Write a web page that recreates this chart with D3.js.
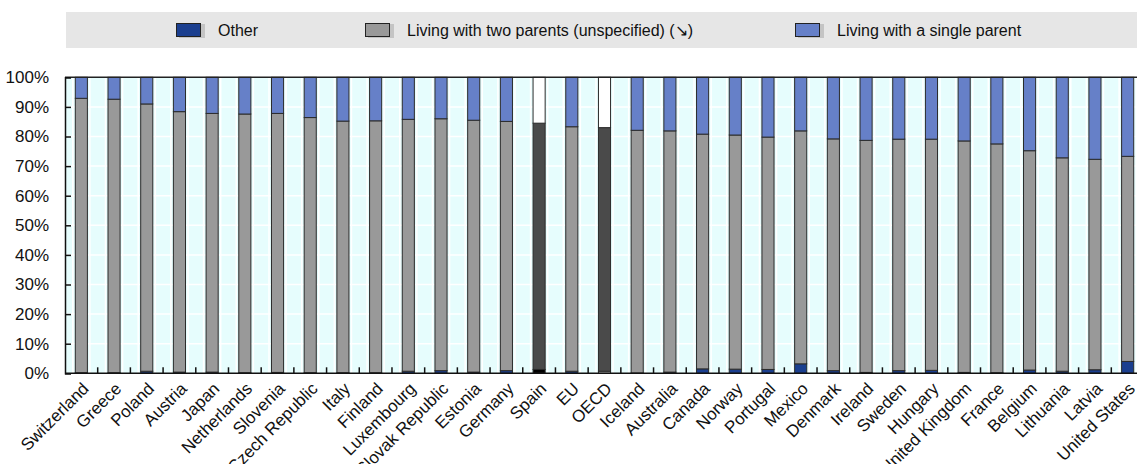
<!DOCTYPE html>
<html>
<head>
<meta charset="utf-8">
<script src="https://cdn.jsdelivr.net/npm/d3@7"></script>
<style>
  html, body { margin: 0; padding: 0; background: #ffffff; overflow: hidden; }
  svg { display: block; font-family: "Liberation Sans", Arial, sans-serif; }
</style>
</head>
<body>
<svg id="chart" width="1137" height="464"></svg>
<script>
// ---- data ----
const countries = ["Switzerland","Greece","Poland","Austria","Japan","Netherlands","Slovenia","Czech Republic","Italy","Finland","Luxembourg","Slovak Republic","Estonia","Germany","Spain","EU","OECD","Iceland","Australia","Canada","Norway","Portugal","Mexico","Denmark","Ireland","Sweden","Hungary","United Kingdom","France","Belgium","Lithuania","Latvia","United States"];
const other = [0.2,0.2,0.7,0.4,0.4,0.2,0.3,0.2,0.2,0.2,0.7,0.9,0.4,0.9,1.3,0.7,0.7,0.1,0.4,1.5,1.4,1.3,3.2,0.9,0.3,0.9,1.0,0.3,0.2,1.1,0.7,1.2,4.0];
const twoParents = [92.7,92.4,90.3,88.0,87.4,87.4,87.5,86.2,85.0,85.1,85.1,85.1,85.1,84.2,83.2,82.6,82.3,82.0,81.5,79.3,79.1,78.5,78.7,78.3,78.4,78.2,78.1,78.2,77.3,74.1,72.1,71.1,69.3];
const singleParent = [7.1,7.4,9.0,11.6,12.2,12.4,12.2,13.6,14.8,14.7,14.2,14.0,14.5,14.9,15.5,16.7,17.0,17.9,18.1,19.2,19.5,20.2,18.1,20.8,21.3,20.9,20.9,21.5,22.5,24.8,27.2,27.7,26.7];
const seriesNames = ["Other","Living with two parents (unspecified) (\u2198)","Living with a single parent"];
const yTicks = [0,10,20,30,40,50,60,70,80,90,100];

// ---- styles ----
const colors = ["#1b3f8f","#999999","#6680c8"];
const highlight = {
  "Spain": ["#000000","#4a4a4a","#ffffff"],
  "OECD":  ["#c8c8c8","#4a4a4a","#ffffff"]
};
const fontSize = 17;
const legendFontSize = 16;

const svg = d3.select("#chart");
const pLeft = 65, pTop = 77.3, pBottom = 373.3, pRight = 1144;

const x = d3.scaleBand().domain(countries).range([pLeft, pRight])
  .paddingInner(0.63).paddingOuter(0.315);
const y = d3.scaleLinear().domain([0,100]).range([pBottom, pTop]);

// legend band
svg.append("rect").attr("x", 66).attr("y", 12).attr("width", 1137 - 66).attr("height", 36)
  .attr("fill", "#e6e6e6");
const legendX = [176, 365, 795];
seriesNames.forEach((name, i) => {
  const g = svg.append("g").attr("transform", `translate(${legendX[i]},23)`);
  g.append("rect").attr("x", 3).attr("y", 1).attr("width", 26).attr("height", 14).attr("fill", "#c4c4c4");
  g.append("rect").attr("x", 0.5).attr("y", 0.5).attr("width", 24).attr("height", 13)
    .attr("fill", colors[i]).attr("stroke", "#222").attr("stroke-width", 1);
  g.append("text").attr("x", 42).attr("y", 7).attr("dy", "0.35em")
    .attr("font-size", legendFontSize).attr("fill", "#111").text(name);
});

// plot background
const plot = svg.append("g");
plot.append("rect").attr("x", pLeft).attr("y", pTop).attr("width", pRight - pLeft).attr("height", pBottom - pTop)
  .attr("fill", "#e6fdfd");
plot.selectAll("line.hg").data(yTicks.slice(1, -1)).join("line")
  .attr("x1", pLeft).attr("x2", pRight)
  .attr("y1", d => y(d)).attr("y2", d => y(d))
  .attr("stroke", "#ffffff").attr("stroke-width", 1.5);
const bw = x.bandwidth();
countries.forEach(c => {
  [x(c) - 2.5, x(c) + bw + 2.5].forEach(px => {
    plot.append("line").attr("x1", px).attr("x2", px).attr("y1", pTop).attr("y2", pBottom)
      .attr("stroke", "#ffffff").attr("stroke-width", 1.5);
  });
});

// stacked bars
const rows = countries.map((c, i) => ({ country: c, other: other[i], two: twoParents[i], single: singleParent[i] }));
const stacked = d3.stack().keys(["other","two","single"])(rows);
stacked.forEach((layer, li) => {
  plot.append("g").selectAll("rect").data(layer).join("rect")
    .attr("x", d => x(d.data.country))
    .attr("width", bw)
    .attr("y", d => y(d[1]))
    .attr("height", d => Math.max(0, y(d[0]) - y(d[1])))
    .attr("fill", d => highlight[d.data.country] ? highlight[d.data.country][li] : colors[li])
    .attr("stroke", "#2b2b2b").attr("stroke-width", 1);
});

// frame: top border
svg.append("line").attr("x1", pLeft).attr("x2", pRight).attr("y1", pTop).attr("y2", pTop)
  .attr("stroke", "#222").attr("stroke-width", 1.5);

// y axis
const yAxis = d3.axisLeft(y).tickValues(yTicks).tickFormat(d => d + "%").tickSize(-6).tickPadding(16);
const gy = svg.append("g").attr("transform", `translate(${pLeft},0)`).call(yAxis);
gy.select(".domain").attr("stroke", "#111").attr("stroke-width", 1.5);
gy.selectAll(".tick line").attr("stroke", "#111").attr("stroke-width", 1.5);
gy.selectAll(".tick text").attr("font-size", fontSize).attr("fill", "#111")
  .attr("font-family", "Liberation Sans, Arial, sans-serif");

// x axis: ticks at category boundaries, inward
const gx = svg.append("g").attr("transform", `translate(0,${pBottom})`);
gx.append("line").attr("x1", pLeft).attr("x2", pRight).attr("y1", 0).attr("y2", 0)
  .attr("stroke", "#111").attr("stroke-width", 1.5);
const step = x.step();
countries.forEach(c => {
  const bx = x(c) + bw / 2 + step / 2;
  gx.append("line").attr("x1", bx).attr("x2", bx).attr("y1", 0).attr("y2", -6)
    .attr("stroke", "#111").attr("stroke-width", 1.5);
});
const xAxis = d3.axisBottom(x).tickSize(0).tickPadding(0);
const gxl = svg.append("g").attr("transform", `translate(0,${pBottom})`).call(xAxis);
gxl.select(".domain").remove();
gxl.selectAll(".tick text")
  .attr("font-size", fontSize).attr("fill", "#111")
  .attr("font-family", "Liberation Sans, Arial, sans-serif")
  .attr("text-anchor", "end")
  .attr("dy", "0.7em")
  .attr("transform", "translate(0,8) rotate(-45)");
</script>
</body>
</html>
